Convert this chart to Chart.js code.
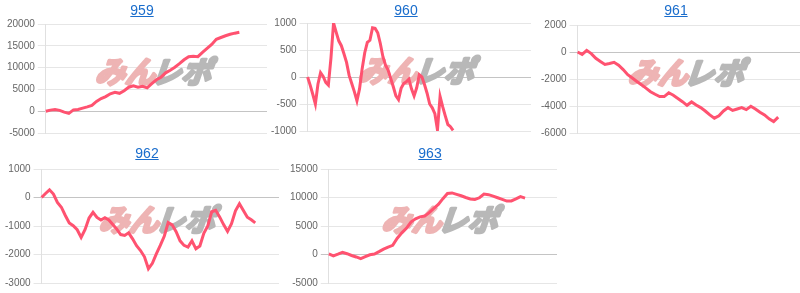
<!DOCTYPE html>
<html>
<head>
<meta charset="utf-8">
<script src="https://cdn.jsdelivr.net/npm/chart.js@4.4.1/dist/chart.umd.min.js"></script>
<style>
  html, body { margin: 0; padding: 0; background: #fff; }
  body { width: 800px; height: 293px; overflow: hidden; position: relative; font-family: "Liberation Sans", Arial, sans-serif; }
  .box { position: absolute; }
  .box a { position: absolute; top: 0; left: 0; width: 100%; text-align: center; font-size: 14px; line-height: 20px; color: #1a6dcc; text-decoration: underline; z-index: 2; }
  .box canvas { position: absolute; left: 0; top: 0; }
</style>
</head>
<body>
<div class="box" id="b959"><a href="#">959</a><canvas id="c959"></canvas></div>
<div class="box" id="b960"><a href="#">960</a><canvas id="c960"></canvas></div>
<div class="box" id="b961"><a href="#">961</a><canvas id="c961"></canvas></div>
<div class="box" id="b962"><a href="#">962</a><canvas id="c962"></canvas></div>
<div class="box" id="b963"><a href="#">963</a><canvas id="c963"></canvas></div>
<script>
// machine numbers (chart titles)
const machines = ["959", "960", "961", "962", "963"];

// number of x slots on each chart (the line stops before the right edge)
const slots959 = 49;
const slots960 = 87;
const slots961 = 50;
const slots962 = 61;
const slots963 = 51;

// balance values
const data959 = [0, 250, 400, 200, -200, -500, 300, 400, 700, 1000, 1350, 2250, 2900, 3350, 4000,
  4350, 4100, 4700, 5500, 5800, 5500, 5700, 5350, 6300, 7200, 7800, 8800, 9400, 10100, 10900,
  11800, 12500, 12600, 12500, 13500, 14400, 15300, 16500, 16900, 17300, 17650, 17900, 18100];

const data960 = [0, -150, -320, -500, -130, 80, 10, -100, -150, 350, 1000, 830, 670, 580, 430,
  270, 30, -120, -270, -440, -220, 150, 450, 640, 680, 910, 900, 820, 620, 375, 220, 130, -25,
  -180, -350, -420, -210, -120, -90, -40, -220, -350, -200, 40, 0, -140, -300, -500, -570, -680,
  -980, -360, -550, -720, -880, -920, -990];

const data961 = [0, -180, 120, -120, -470, -700, -920, -850, -760, -980, -1300, -1680, -1930,
  -2180, -2420, -2680, -2940, -3130, -3300, -3300, -3020, -3200, -3440, -3680, -3950, -3700,
  -3930, -4120, -4370, -4660, -4900, -4720, -4370, -4120, -4330, -4220, -4120, -4270, -4020,
  -4220, -4460, -4660, -4950, -5150, -4830];

const data962 = [0, 140, 270, 120, -170, -340, -630, -890, -990, -1130, -1400, -1120, -720, -520,
  -700, -790, -710, -790, -950, -1110, -1300, -1330, -1240, -1450, -1690, -1860, -2080, -2500,
  -2310, -1980, -1680, -1360, -880, -960, -1200, -1520, -1680, -1740, -1520, -1800, -1700, -1260,
  -1000, -500, -450, -680, -950, -1190, -920, -470, -220, -460, -690, -780, -890];

const data963 = [100, -230, 60, 380, 140, -170, -430, -720, -380, -50, 80, 500, 950, 1300, 1600,
  2860, 3800, 4600, 5700, 6250, 6600, 6740, 7350, 8100, 8800, 9800, 10700, 10800, 10550, 10300,
  10000, 9740, 9650, 9950, 10600, 10500, 10230, 9950, 9680, 9380, 9400, 9750, 10150, 9900];

// y axis ranges [min, max, step]
const yAxis959 = [-5000, 20000, 5000];
const yAxis960 = [-1000, 1000, 500];
const yAxis961 = [-6000, 2000, 2000];
const yAxis962 = [-3000, 1000, 1000];
const yAxis963 = [-5000, 15000, 5000];

// where each small chart sits on the page
const boxes = {
  "959": { left: 0, top: 0, width: 284, height: 142, pad: { top: 24, right: 17, bottom: 9, left: 4 } },
  "960": { left: 264, top: 0, width: 284, height: 142, pad: { top: 23, right: 17, bottom: 11, left: 4 } },
  "961": { left: 534, top: 0, width: 284, height: 142, pad: { top: 25, right: 17, bottom: 8, left: 4 } },
  "962": { left: 0, top: 143, width: 294, height: 150, pad: { top: 26, right: 15, bottom: 10, left: 2 } },
  "963": { left: 283, top: 143, width: 294, height: 150, pad: { top: 26, right: 20, bottom: 10, left: 4 } }
};

const series = {
  "959": { slots: slots959, data: data959, y: yAxis959 },
  "960": { slots: slots960, data: data960, y: yAxis960 },
  "961": { slots: slots961, data: data961, y: yAxis961 },
  "962": { slots: slots962, data: data962, y: yAxis962 },
  "963": { slots: slots963, data: data963, y: yAxis963 }
};

// "みんレポ" watermark behind the line
const watermark = {
  id: "watermark",
  beforeDatasetsDraw(chart) {
    const { ctx, chartArea: a } = chart;
    const cx = (a.left + a.right) / 2;
    const cy = a.top + (a.bottom - a.top) * 0.44;
    ctx.save();
    ctx.font = "bold 30px 'Noto Sans CJK JP', sans-serif";
    ctx.textBaseline = "middle";
    ctx.lineJoin = "round";
    ctx.lineWidth = 3;
    const w1 = ctx.measureText("みん").width;
    const w2 = ctx.measureText("レポ").width;
    ctx.translate(cx - (w1 + w2) / 2 + 2, cy);
    ctx.transform(1, 0, -0.35, 1, 0, 0);
    ctx.fillStyle = ctx.strokeStyle = "#eeb4b4";
    ctx.strokeText("みん", 0, 0);
    ctx.fillText("みん", 0, 0);
    ctx.fillStyle = ctx.strokeStyle = "#b8b8b8";
    ctx.strokeText("レポ", w1 - 4, 0);
    ctx.fillText("レポ", w1 - 4, 0);
    ctx.restore();
  }
};

machines.forEach(function (m) {
  const b = boxes[m];
  const s = series[m];
  const box = document.getElementById("b" + m);
  box.style.left = b.left + "px";
  box.style.top = b.top + "px";
  box.style.width = b.width + "px";
  box.style.height = b.height + "px";
  const canvas = document.getElementById("c" + m);
  canvas.width = b.width;
  canvas.height = b.height;

  const labels = Array.from({ length: s.slots }, (_, i) => String(i + 1));

  new Chart(canvas, {
    type: "line",
    data: {
      labels: labels,
      datasets: [{
        data: s.data,
        borderColor: "rgb(255, 82, 112)",
        borderWidth: 3,
        pointRadius: 0,
        tension: 0,
        fill: false
      }]
    },
    options: {
      responsive: false,
      animation: false,
      layout: { padding: b.pad },
      plugins: { legend: { display: false }, tooltip: { enabled: false }, title: { display: false } },
      scales: {
        x: { display: false },
        y: {
          min: s.y[0],
          max: s.y[1],
          ticks: {
            stepSize: s.y[2],
            color: "#666",
            font: { family: "'Liberation Sans', Arial, sans-serif", size: 10 },
            callback: (v) => String(v)
          },
          grid: {
            color: (c) => (c.tick && c.tick.value === 0 ? "#c4c4c4" : "#e6e6e6"),
            tickLength: 8
          },
          border: { color: "#e0e0e0" }
        }
      }
    },
    plugins: [watermark]
  });
});
</script>
</body>
</html>
